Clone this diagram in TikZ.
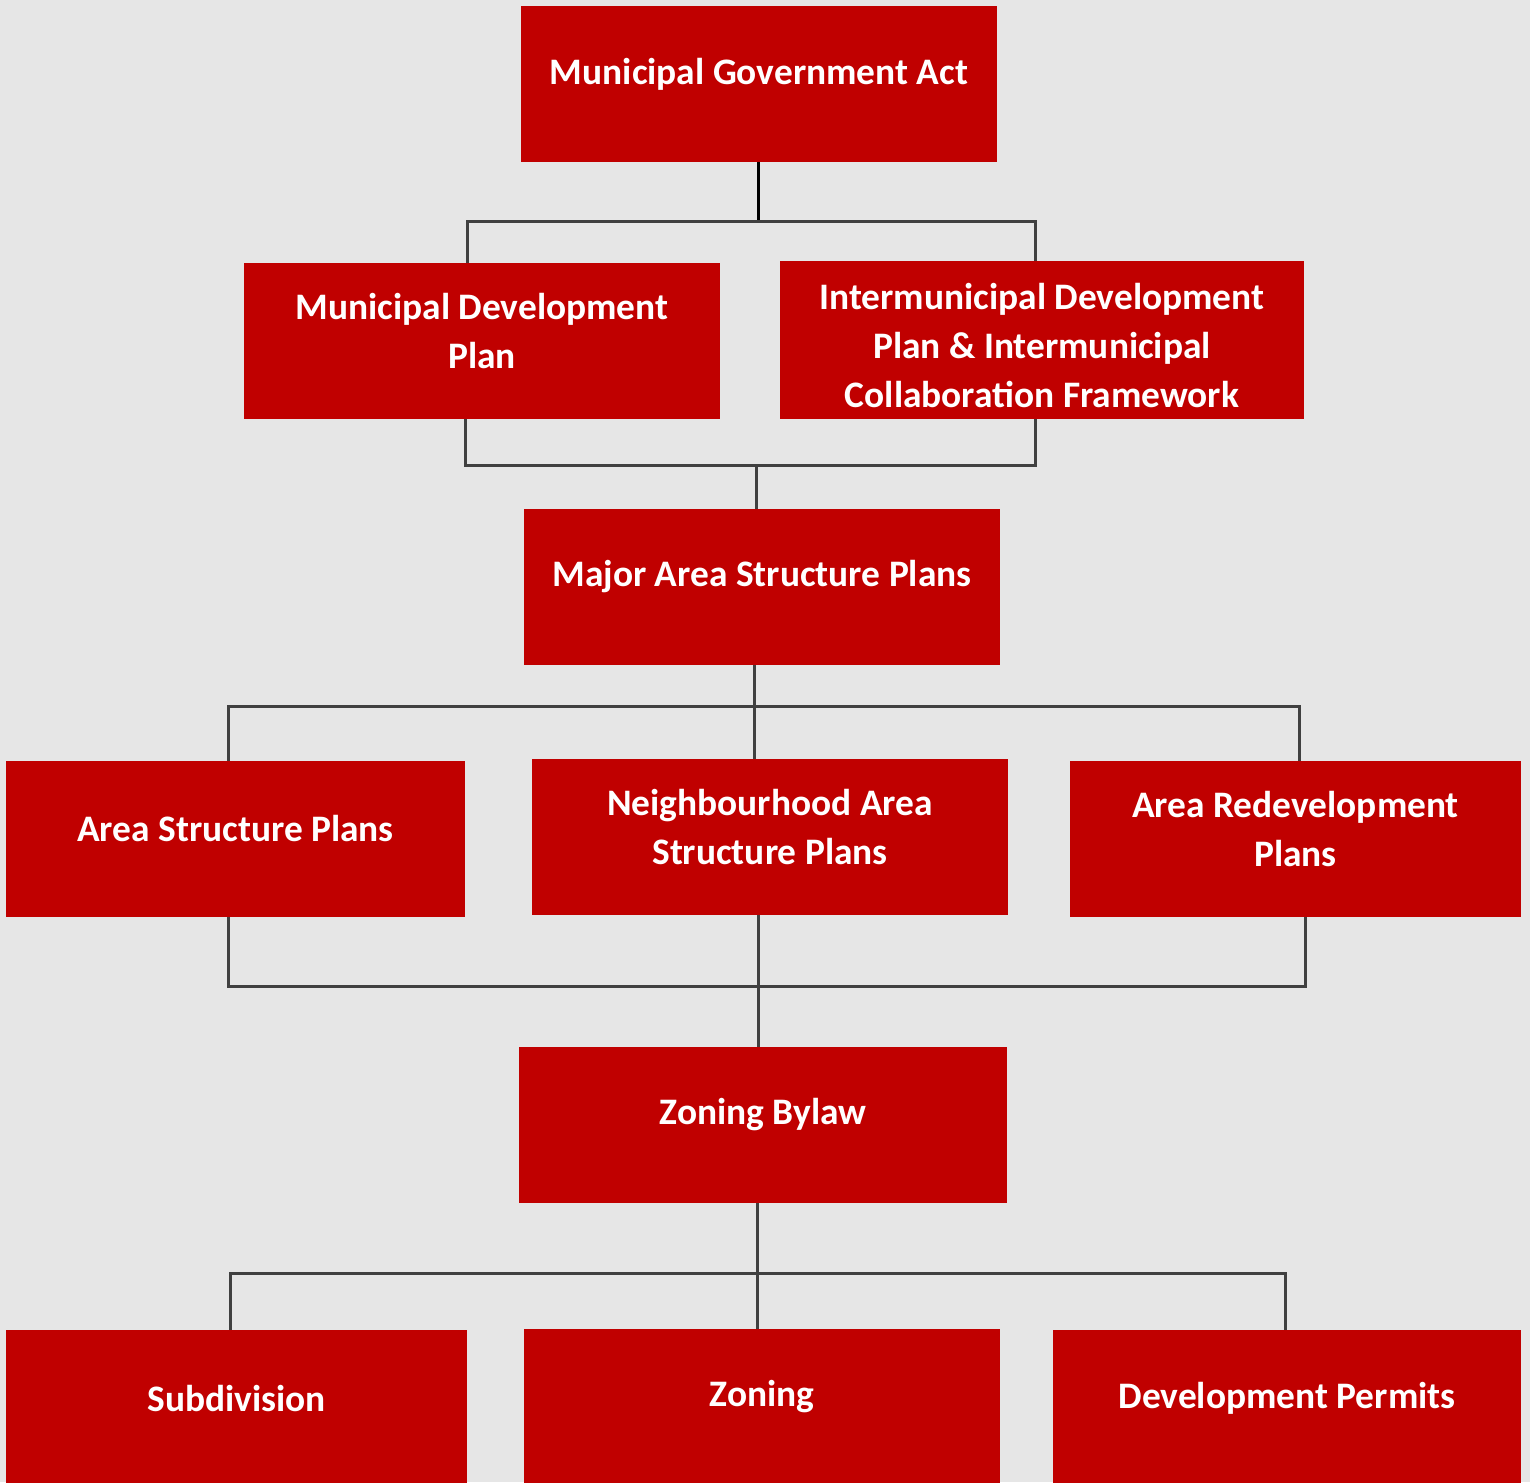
\documentclass[tikz,border=0pt]{standalone}
\usepackage{fontspec}
\setmainfont{Carlito}
\usepackage{xcolor}
\usepackage{tikz}
\usetikzlibrary{positioning, calc}

\definecolor{bgcol}{HTML}{E6E6E6}
\definecolor{boxred}{HTML}{C00000}
\definecolor{linecol}{HTML}{404040}

\tikzset{
  box/.style={fill=boxred, minimum height=78pt, inner sep=0pt},
  txt/.style={text=white, align=center, yshift=5pt,
    font=\bfseries\fontsize{18.7}{24.5}\selectfont},
  conn/.style={draw=linecol, line width=1.5pt},
}

\begin{document}
\begin{tikzpicture}[x=0.5pt, y=-0.5pt]
          \fill[bgcol] (0,0) rectangle (1530,1482);
          \useasboundingbox (0,0) rectangle (1530,1482);

          % Act
          \node[box, minimum width=238pt, label={[txt]center:Municipal Government Act}] (mga) at (759,84) {};

          % Plans
          \node[box, minimum width=238pt, label={[txt]center:{Municipal Development\\Plan}}] (mdp) at (482,341) {};
          \node[box, minimum width=262pt, minimum height=79pt, label={[txt, yshift=-8pt]center:{Intermunicipal Development\\Plan \& Intermunicipal\\Collaboration Framework}}] (idp) at (1042,340) {};
          \node[box, minimum width=238pt, label={[txt]center:Major Area Structure Plans}] (masp) at (762,587) {};

          % Local plans
          \node[box, minimum width=229.5pt, label={[txt]center:Area Structure Plans}] (asp) at (235.5,839) {};
          \node[box, minimum width=238pt, label={[txt]center:{Neighbourhood Area\\Structure Plans}}] (nasp) at (770,837) {};
          \node[box, minimum width=225.5pt, label={[txt]center:{Area Redevelopment\\Plans}}] (arp) at (1295.5,839) {};

          % Bylaw
          \node[box, minimum width=244pt, label={[txt]center:Zoning Bylaw}] (zb) at (763,1125) {};

          % Decisions
          \node[box, minimum width=230.5pt, label={[txt]center:Subdivision}] (sub) at (236.5,1408) {};
          \node[box, minimum width=238pt, label={[txt]center:Zoning}] (zon) at (762,1407) {};
          \node[box, minimum width=234pt, label={[txt]center:Development Permits}] (dp) at (1287,1408) {};

          % Buses
          \coordinate (b1l) at (467,222);
          \coordinate (b1r) at (1035,222);
          \coordinate (b2l) at (465,465);
          \coordinate (b2r) at (1035,465);
          \coordinate (b3l) at (228,706);
          \coordinate (b3m) at (754,706);
          \coordinate (b3r) at (1299,706);
          \coordinate (b4l) at (228,986);
          \coordinate (b4m) at (758,986);
          \coordinate (b4r) at (1305,986);
          \coordinate (b5l) at (230,1273);
          \coordinate (b5m) at (757,1273);
          \coordinate (b5r) at (1285,1273);

          \draw[conn, draw=black] ($(mga.south)+(-1,0)$) -- ($(mga.south |- b1l)+(-1,0)$);
          \draw[conn] (mdp.north -| b1l) -- (b1l) -- (b1r) -- (idp.north -| b1r);

          \draw[conn] (mdp.south -| b2l) -- (b2l) -- (b2r) -- (idp.south -| b2r);
          \draw[conn] ($(masp.north)+(-6,0)$) -- ($(masp.north |- b2l)+(-6,0)$);

          \draw[conn] (masp.south -| b3m) -- (nasp.north -| b3m);
          \draw[conn] (asp.north -| b3l) -- (b3l) -- (b3r) -- (arp.north -| b3r);

          \draw[conn] (asp.south -| b4l) -- (b4l) -- (b4r) -- (arp.south -| b4r);
          \draw[conn] (nasp.south -| b4m) -- (zb.north -| b4m);

          \draw[conn] (zb.south -| b5m) -- (zon.north -| b5m);
          \draw[conn] (sub.north -| b5l) -- (b5l) -- (b5r) -- (dp.north -| b5r);
        \end{tikzpicture}
\end{document}
